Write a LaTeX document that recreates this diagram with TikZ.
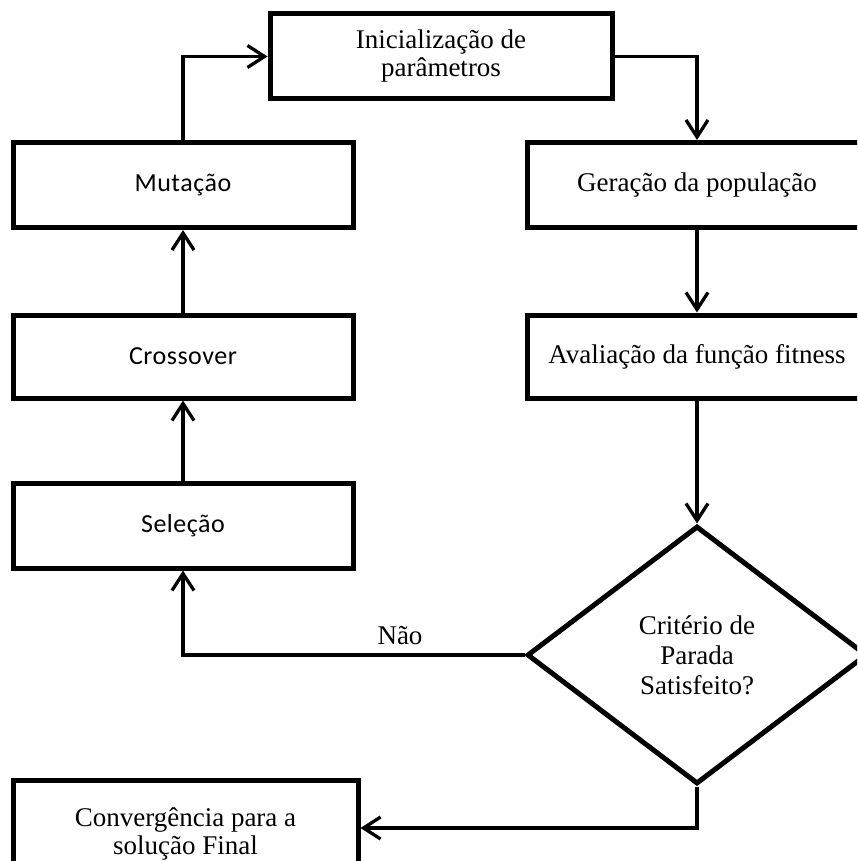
\documentclass[tikz,border=0pt]{standalone}
\usepackage{fontspec}
\setmainfont{Liberation Serif}
\newfontfamily\labelsans{Carlito}[LetterSpace=2]
\usetikzlibrary{shapes.geometric,arrows.meta}
\begin{document}
\begin{tikzpicture}[x=1pt,y=-1pt,
  box/.style={draw, rectangle, line width=5pt, minimum width=340pt, minimum height=85pt,
    inner sep=0pt, align=center, font=\fontsize{27}{28}\selectfont},
  sansbox/.style={box, font=\labelsans\fontsize{26}{28}\selectfont},
  decision/.style={draw, diamond, shape aspect=1.32, line width=5pt, minimum width=340pt,
    minimum height=258pt, inner sep=0pt, align=center, font=\fontsize{27}{30}\selectfont},
  conn/.style={line width=3.3pt, -{Straight Barb[length=17pt,width=22pt]}},
  plain/.style={font=\fontsize{27}{28}\selectfont, inner sep=0pt}]
\useasboundingbox (0,0) rectangle (857,861);
\clip (0,0) rectangle (857,861);

% process boxes
\node[box] (ini) at (441,56.5) [minimum width=342pt] {Inicialização de\\parâmetros};
\node[sansbox] (mut) at (183,185) {Mutação};
\node[sansbox, minimum height=83pt] (cro) at (183,356.5) {Crossover};
\node[sansbox] (sel) at (183,525.5) {Seleção};
\node[box] (ger) at (697,185) {Geração da população};
\node[box, minimum height=83pt] (ava) at (697,356.5) {Avaliação da função fitness};
\node[decision] (dec) at (697,655) {Critério de\\Parada\\Satisfeito?};
\node[box, minimum width=345pt, minimum height=108pt] (conv) at (185.5,834)
  {Convergência para a\\solução Final};
\node[plain] (nao) at (400,636) {Não};

% flow
\draw[conn] (mut.north) |- (ini.west);
\draw[conn] (ini.east) -| (ger.north);
\draw[conn] (ger.south) -- (ava.north);
\draw[conn] (ava.south) -- (dec.north);
\draw[conn] (dec.west) -| (sel.south);
\draw[conn] (sel.north) -- (cro.south);
\draw[conn] (cro.north) -- (mut.south);
\draw[conn] (dec.south) |- ([yshift=6pt]conv.east);
\end{tikzpicture}
\end{document}
